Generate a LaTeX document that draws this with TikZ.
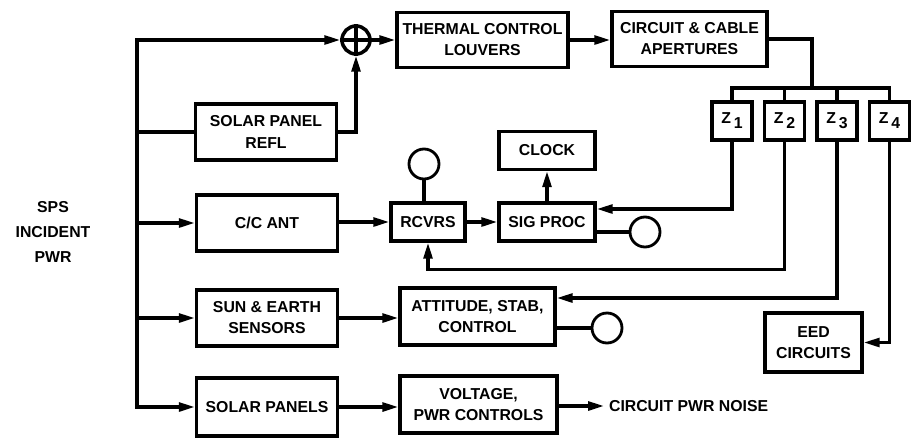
\documentclass[tikz,border=0pt]{standalone}
\usepackage{fontspec}
\setmainfont{Liberation Sans}
\usepackage{tikz}
\usetikzlibrary{calc, positioning, arrows.meta}

\begin{document}
\begin{tikzpicture}[
    x=0.02cm, y=-0.02cm,
    line width=1.8pt,
    blk/.style={draw, line width=2pt, font=\bfseries\fontsize{9}{12}\selectfont,
      align=center, inner sep=2pt},
    zbox/.style={blk, minimum width=0.8cm, minimum height=0.76cm},
    sensor/.style={draw, circle, line width=1.6pt, minimum size=0.6cm, inner sep=0pt},
    sumnode/.style={draw, circle, line width=2pt, minimum size=0.56cm, inner sep=0pt},
    lbl/.style={font=\bfseries\fontsize{9}{14}\selectfont, align=center, inner sep=2pt},
    arr/.style={-{Triangle[length=9pt,width=5pt]}},
    node distance=0.18cm,
  ]
    \useasboundingbox (0,0) rectangle (923,437);

    \node[lbl] (sps) at (53,232) {SPS\\INCIDENT\\PWR};

    \node[blk, minimum width=2.82cm, minimum height=1.12cm] (refl) at (266,132) {SOLAR PANEL\\REFL};
    \node[blk, minimum width=2.82cm, minimum height=1.12cm] (cc) at (267,223) {C/C ANT};
    \node[blk, minimum width=2.82cm, minimum height=1.12cm] (sun) at (267,318) {SUN \& EARTH\\SENSORS};
    \node[blk, minimum width=2.82cm, minimum height=1.16cm] (spanels) at (267,407) {SOLAR PANELS};

    \node[sumnode] (sum) at (356,40) {};
    \draw (sum.north) -- (sum.south) (sum.west) -- (sum.east);

    \node[blk, minimum width=3.42cm, minimum height=1.1cm] (thermal) at (482.5,40) {THERMAL CONTROL\\LOUVERS};
    \node[blk, minimum width=3.1cm, minimum height=1.1cm] (circuit) at (689.5,39) {CIRCUIT \& CABLE\\APERTURES};

    \node[zbox] (z1) at (732,121) {Z\,\raisebox{-0.6ex}{1}};
    \node[zbox, right=of z1] (z2) {Z\,\raisebox{-0.6ex}{2}};
    \node[zbox, right=of z2] (z3) {Z\,\raisebox{-0.6ex}{3}};
    \node[zbox, right=of z3] (z4) {Z\,\raisebox{-0.6ex}{4}};

    \node[blk, minimum width=1.48cm, minimum height=0.76cm] (rcvrs) at (428,222) {RCVRS};
    \node[blk, minimum width=1.92cm, minimum height=0.76cm] (sigproc) at (547,222) {SIG PROC};
    \node[blk, minimum width=1.92cm, minimum height=0.76cm, above=0.6cm of sigproc] (clock) {CLOCK};
    \node[blk, minimum width=3.1cm, minimum height=1.14cm] (attitude) at (477.5,316.5) {ATTITUDE, STAB,\\CONTROL};
    \node[blk, minimum width=3.14cm, minimum height=1.14cm] (voltage) at (478.5,404.5) {VOLTAGE,\\PWR CONTROLS};
    \node[blk, minimum width=1.94cm, minimum height=1.18cm] (eed) at (813.5,342.5) {EED\\CIRCUITS};
    \node[lbl, anchor=west] (noise) at (604,406) {CIRCUIT PWR NOISE};

    \node[sensor] (c1) at (424,164) {};
    \node[sensor] (c2) at (645,232) {};
    \node[sensor] (c3) at (607,328) {};

    \coordinate (bt) at (137,40);
    \coordinate (bb) at (137,407);
    \coordinate (bar) at (812,88);

    % incident power bus
    \draw[{Triangle[length=9pt,width=5pt]}-{Triangle[length=9pt,width=5pt]}] (sum.west) -- (bt) -- (bb) -- (spanels.west);
    \draw (refl.west -| bt) -- (refl.west);
    \draw[arr] (cc.west -| bt) -- (cc.west);
    \draw[arr] (sun.west -| bt) -- (sun.west);

    \draw[arr] (refl.east) -| (sum.south);
    \draw[arr] (sum.east) -- (thermal.west);
    \draw[arr] (thermal.east) -- (thermal.east -| circuit.west);

    \draw (circuit.east) -| (bar);
    \draw (z1.north) |- (bar) -| (z4.north);
    \foreach \z in {z2, z3}
      \draw (\z.north) -- (\z.north |- bar);

    \draw[arr] (z1.south) |- ([yshift=0.26cm]sigproc.east);
    \draw[arr] (z2.south) |- ([yshift=-0.54cm]rcvrs.south) -- (rcvrs.south);
    \draw[arr] (z3.south) |- ([yshift=0.37cm]attitude.east);
    \draw[arr] (z4.south) |- (eed.east);

    \draw[arr] (cc.east |- rcvrs) -- (rcvrs.west);
    \draw[arr] (rcvrs.east) -- (sigproc.west);
    \draw[arr] (sigproc.north) -- (clock.south);
    \draw[arr] (sun.east) -- (sun.east -| attitude.west);
    \draw[arr] (spanels.east) -- (spanels.east -| voltage.west);
    \draw[arr] (voltage.east |- noise) -- (noise.west);

    \draw (rcvrs.north -| c1) -- (c1.south);
    \draw (sigproc.east |- c2) -- (c2.west);
    \draw (attitude.east |- c3) -- (c3.west);
  \end{tikzpicture}
\end{document}
